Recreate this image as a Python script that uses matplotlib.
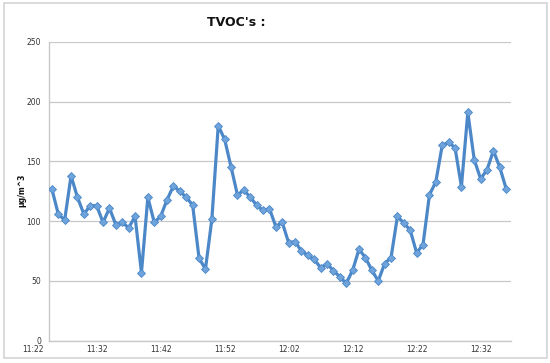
import matplotlib
matplotlib.use("Agg")
import matplotlib.pyplot as plt
from matplotlib.patches import Rectangle

# minutes after 11:22 for each sample (one per minute, 11:25 .. 12:36)
start_minute = 3
values = [127, 106, 101, 138, 120, 106, 113, 113, 99, 111, 97, 99, 94.5, 104,
          57, 120, 99, 104, 118, 129.5, 125, 120, 113.5, 69, 60, 101.5, 180,
          168.5, 145.5, 122, 126, 120, 113.5, 109, 110.5, 95.5, 99, 82, 83,
          75, 71.5, 68, 61, 64.5, 58.5, 53.5, 48, 59, 76.5, 69.5, 59, 50, 64.5,
          69.5, 104, 98.5, 92.5, 73.5, 80.5, 122, 133, 163.5, 166, 161.5, 129,
          191, 151.5, 135.5, 143, 159, 145, 127]
minutes = list(range(start_minute, start_minute + len(values)))

tick_minutes = [0, 10, 20, 30, 40, 50, 60, 70]
tick_labels = ["11:22", "11:32", "11:42", "11:52", "12:02", "12:12", "12:22", "12:32"]
y_ticks = [0, 50, 100, 150, 200, 250]

title = "TVOC's :"
ylabel = "μg/m^3"

fig = plt.figure(figsize=(5.5, 3.63), dpi=100)
fig.patches.append(Rectangle((4/550, 1-358/363), 543/550, 355/363,
                             transform=fig.transFigure, fill=False,
                             edgecolor="#d4d4d4", linewidth=1.2))
ax = fig.add_axes([49.3/550, 1-340.7/363, (510.7-49.3)/550, (340.7-42)/363])

ax.plot(minutes, values, color="#4c88c8", linewidth=2.3, marker="D",
        markersize=3.8, markerfacecolor="#6ea3dc", markeredgecolor="#4c88c8",
        markeredgewidth=0.6, zorder=3)

ax.set_xlim(2.6, 74.7)
ax.set_ylim(0, 250)
ax.set_yticks(y_ticks)
ax.set_yticklabels([str(v) for v in y_ticks], fontsize=5.5, color="#333333")
ax.yaxis.grid(True, color="#c8c8c8", linewidth=0.9)
ax.set_axisbelow(True)

ax.set_xticks(tick_minutes[1:])
ax.set_xticklabels(tick_labels[1:], fontsize=5.5, color="#333333")
ax.tick_params(axis="both", length=0, pad=3)
ax.tick_params(axis="y", pad=6)
ax.annotate(tick_labels[0], xy=(tick_minutes[0], 0), xycoords=ax.get_xaxis_transform(),
            xytext=(0, -3), textcoords="offset points",
            ha="center", va="top", fontsize=5.5, color="#333333",
            annotation_clip=False)

for s in ["top", "right"]:
    ax.spines[s].set_visible(False)
for s in ["left", "bottom"]:
    ax.spines[s].set_color("#c8c8c8")
    ax.spines[s].set_linewidth(1.0)

fig.text(236/550, 1-22/363, title, ha="center", va="center", fontsize=9,
         fontweight="bold", color="#111111")
fig.text(22/550, 1-190/363, ylabel, ha="center", va="center", fontsize=5.5,
         fontweight="bold", rotation=90, color="#111111")

fig.savefig("out.png", dpi=100)
